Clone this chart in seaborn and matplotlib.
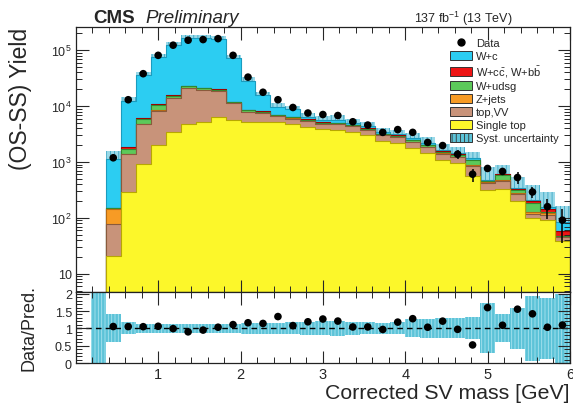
import numpy as np
import pandas as pd
import matplotlib
matplotlib.use("Agg")
import matplotlib.pyplot as plt
from matplotlib.patches import Patch
from matplotlib.lines import Line2D
from matplotlib.ticker import FixedLocator, FixedFormatter, MultipleLocator, NullFormatter
import seaborn as sns

# ---- binning of the corrected secondary-vertex mass (GeV) ----
mass_lo, mass_hi, n_bins = 0.18, 6.0, 32

# ---- predicted yields per bin (OS-SS), first bin is empty ----
single_top = [0, 21, 285, 940, 2000, 3440, 4840, 5190, 6380, 5570, 5200, 5200, 5100, 4700,
              4300, 3900, 3800, 3500, 3000, 2400, 2200, 1800, 1450, 1100, 950, 565, 320, 325,
              200, 100, 90, 39]
top_vv = [0, 56, 1080, 3800, 6300, 10500, 16200, 14400, 12200, 5700, 2600, 2300, 1500, 1300,
          1100, 900, 900, 850, 750, 600, 560, 450, 400, 300, 270, 285, 100, 140, 70, 18, 25, 6]
z_jets = [0, 66, 40, 60, 100, 100, 100, 100, 100, 80, 50, 50, 50, 50, 40, 40, 40, 30, 30, 30,
          25, 20, 20, 20, 15, 20, 10, 15, 5, 12, 5, 1]
w_udsg = [0, 5, 330, 1200, 2100, 1400, 1300, 1000, 800, 400, 500, 350, 300, 300, 250, 200, 220,
          200, 180, 150, 170, 180, 130, 110, 100, 200, 20, 110, 40, 55, 5, 2]
w_ccbb = [0, 2, 130, 250, 400, 500, 400, 400, 400, 300, 150, 150, 100, 100, 80, 70, 70, 60, 60,
          50, 50, 40, 40, 30, 30, 30, 5, 15, 10, 15, 20, 10]
w_c = [0, 980, 10500, 30000, 65500, 108000, 145000, 142000, 136000, 61000, 19900, 7450, 2650,
       2300, 550, 460, 580, 410, 380, 270, 215, 160, 130, 70, 55, 60, 25, 17, 15, 5, 9, 25]

# relative systematic uncertainty of the prediction
syst_rel = [1.5, 0.4, 0.17, 0.14, 0.13, 0.13, 0.13, 0.13, 0.13, 0.14, 0.15, 0.15, 0.16, 0.17,
            0.19, 0.2, 0.22, 0.18, 0.17, 0.15, 0.17, 0.26, 0.27, 0.29, 0.29, 0.32, 0.72, 0.4,
            0.6, 0.93, 0.88, 1.0]

# ---- observed OS-SS yields ----
data = [np.nan, 1190, 13000, 38000, 81000, 123000, 151000, 155000, 161000, 81000, 33000, 17700,
        13000, 9450, 7520, 7070, 6790, 5250, 4580, 3390, 3800, 3390, 2240, 1970, 1380, 605, 767,
        678, 528, 291, 159, 91]
data_err = [0, 60, 250, 400, 600, 800, 900, 900, 900, 700, 400, 260, 220, 190, 170, 160, 150,
            140, 130, 120, 150, 150, 130, 150, 250, 160, 80, 100, 130, 60, 62, 55]

# ---- samples, bottom of the stack first ----
samples = [
    ("Single top", single_top, "#fcf72a", "#b8a800"),
    ("top,VV", top_vv, "#c8937a", "#8a5a3c"),
    ("Z+jets", z_jets, "#f79b25", "#b86a10"),
    ("W+udsg", w_udsg, "#5cc95a", "#2f8a2f"),
    (r"W+c$\bar{\mathrm{c}}$, W+b$\bar{\mathrm{b}}$", w_ccbb, "#ee1515", "#a00000"),
    ("W+c", w_c, "#2ccdf2", "#1a9cbf"),
]

sns.set_theme(style="ticks")
plt.rcParams["font.family"] = ["Liberation Sans", "DejaVu Sans"]
plt.rcParams["mathtext.fontset"] = "custom"
plt.rcParams["mathtext.rm"] = "Liberation Sans"
plt.rcParams["mathtext.it"] = "Liberation Sans:italic"
plt.rcParams["hatch.linewidth"] = 0.6

edges = np.linspace(mass_lo, mass_hi, n_bins + 1)
bin_edges = [float(e) for e in edges]
centers = 0.5 * (edges[:-1] + edges[1:])
stack = np.cumsum(np.array([s[1] for s in samples], dtype=float), axis=0)
total = stack[-1]
data_arr = np.array(data, dtype=float)
syst = np.array(syst_rel)

fig = plt.figure(figsize=(5.73, 4.06), dpi=100)
ax = fig.add_axes([0.1326, 0.278, 0.862, 0.653])
rax = fig.add_axes([0.1326, 0.1034, 0.862, 0.175], sharex=ax)

ax.set_yscale("log")

# systematic band around the total prediction (the stack covers its lower half)
ax.stairs(total * (1 + syst), edges, baseline=np.clip(total * (1 - syst), 1e-3, None), fill=True,
          facecolor="#9ad9e8", hatch="||||", edgecolor="#3aa6c4", linewidth=0, zorder=0.5)

# stacked prediction: draw the cumulative layers from the top down
for k in range(len(samples) - 1, -1, -1):
    name, _, face, edge = samples[k]
    layer = pd.DataFrame({"mass": centers, "yield": stack[k]})
    sns.histplot(data=layer, x="mass", weights="yield", bins=bin_edges, element="step", fill=True,
                 color=face, alpha=1.0, edgecolor=edge, linewidth=0.8, ax=ax)

# data points
pts = pd.DataFrame({"mass": centers, "yield": data_arr,
                    "ratio": data_arr / np.where(total > 0, total, np.nan)})
sns.scatterplot(data=pts, x="mass", y="yield", color="black", s=30, edgecolor="none", ax=ax, zorder=5)
ax.errorbar(centers, data_arr, yerr=data_err, fmt="none", ecolor="black", elinewidth=1.1,
            capsize=0, zorder=5)

ax.set_xlim(0, 6)
ax.set_ylim(4.7, 2.6e5)
ax.set_xlabel("")
ax.set_ylabel("(OS-SS) Yield", fontsize=16.5, loc="top", labelpad=14)
ax.yaxis.set_major_locator(FixedLocator([10, 100, 1000, 1e4, 1e5]))
ax.yaxis.set_major_formatter(FixedFormatter(["10", "$10^2$", "$10^3$", "$10^4$", "$10^5$"]))
minor = [m * 10 ** e for e in range(0, 6) for m in range(2, 10)]
ax.yaxis.set_minor_locator(FixedLocator(minor))
ax.yaxis.set_minor_formatter(NullFormatter())
ax.xaxis.set_major_locator(FixedLocator([1, 2, 3, 4, 5, 6]))
ax.xaxis.set_minor_locator(MultipleLocator(0.2))
ax.tick_params(axis="x", labelbottom=False)

for a in (ax, rax):
    a.tick_params(which="major", direction="in", length=9, width=0.8, top=True, right=True,
                  labelsize=9, pad=3)
    a.tick_params(which="minor", direction="in", length=4.5, width=0.7, top=True, right=True)
    for sp in a.spines.values():
        sp.set_linewidth(0.9)
        sp.set_color("#222222")
        sp.set_zorder(10)
    a.set_axisbelow(False)

# ratio panel
rax.stairs(np.clip(1 + syst, 0, 2.05), edges, baseline=np.clip(1 - syst, 0, None), fill=True,
           facecolor="#5cc3d8", hatch="|||||", edgecolor="#a9e4ef", linewidth=0, zorder=1)
rax.axhline(1.0, color="black", linestyle=(0, (4, 3)), linewidth=1.0, zorder=2)
sns.scatterplot(data=pts, x="mass", y="ratio", color="black", s=30, edgecolor="none", ax=rax, zorder=5)
rax.set_ylim(0, 2.05)
rax.set_xlim(0, 6)
rax.yaxis.set_major_locator(FixedLocator([0, 0.5, 1, 1.5, 2]))
rax.yaxis.set_major_formatter(FixedFormatter(["0", "0.5", "1", "1.5", "2"]))
rax.yaxis.set_minor_locator(MultipleLocator(0.1))
rax.xaxis.set_major_formatter(FixedFormatter(["1", "2", "3", "4", "5", "6"]))
rax.set_ylabel("Data/Pred.", fontsize=13, labelpad=12)
rax.set_xlabel("Corrected SV mass [GeV]", fontsize=15.3, loc="right", labelpad=1)
rax.tick_params(axis="x", labelsize=10.5)

# header
fig.text(0.162, 0.955, "CMS", fontsize=13.5, fontweight="bold", va="center", ha="left")
fig.text(0.253, 0.955, "Preliminary", fontsize=13.5, fontstyle="italic", va="center", ha="left")
fig.text(0.895, 0.953, "137 fb$^{-1}$ (13 TeV)", fontsize=9, va="center", ha="right")

# legend
handles = [Line2D([0], [0], marker="o", color="black", markersize=5, linestyle="none")]
labels = ["Data"]
for name, _, face, edge in reversed(samples):
    handles.append(Patch(facecolor=face, edgecolor="#333333", linewidth=0.7))
    labels.append(name)
handles.append(Patch(facecolor="#5cc3d8", hatch="||||", edgecolor="#333333", linewidth=0.7))
labels.append("Syst. uncertainty")
ax.legend(handles, labels, loc="upper left", bbox_to_anchor=(0.757, 0.96), frameon=False,
          fontsize=8, labelspacing=0.22, handlelength=2.0, handleheight=0.9,
          handletextpad=0.35, borderpad=0, borderaxespad=0)

fig.savefig("out.png", dpi=100)
